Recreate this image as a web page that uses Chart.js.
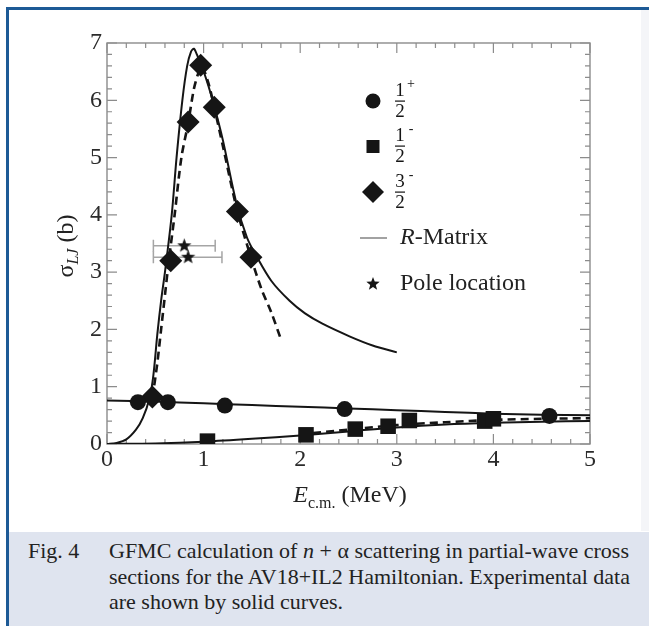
<!DOCTYPE html>
<html>
<head>
<meta charset="utf-8">
<script src="https://cdn.jsdelivr.net/npm/chart.js@4.4.1/dist/chart.umd.min.js"></script>
<style>
    body { margin: 0; width: 649px; height: 626px; background: #fff; position: relative; overflow: hidden; font-family: "Liberation Serif", serif; }
    #frameTop { position: absolute; left: 6px; top: 7px; width: 643px; height: 3px; background: #1d5a96; }
    #frameLeft { position: absolute; left: 6px; top: 7px; width: 3px; height: 619px; background: #1d5a96; }
    #rightStrip { position: absolute; left: 641px; top: 10px; width: 8px; height: 521px; background: #f4f5f8; }
    #chart { position: absolute; left: 0; top: 0; }
    #caption { position: absolute; left: 9px; top: 532px; width: 640px; height: 94px; background: #dfe4ef; color: #222; font-size: 22px; }
    #caption .fig { position: absolute; left: 19px; top: 6px; line-height: 25.5px; }
    #caption .body { position: absolute; left: 100px; top: 6px; width: 520px; }
    #caption .line { line-height: 25.5px; white-space: nowrap; text-align: justify; text-align-last: justify; }
    #caption .line.last { text-align-last: left; }
</style>
</head>
<body>
<div id="frameTop"></div>
<div id="frameLeft"></div>
<div id="rightStrip"></div>
<canvas id="chart" width="649" height="531"></canvas>
<div id="caption">
    <div class="fig">Fig. 4</div>
    <div class="body">
        <div class="line">GFMC calculation of <i>n</i> + α scattering in partial-wave cross</div>
        <div class="line">sections for the AV18+IL2 Hamiltonian. Experimental data</div>
        <div class="line last">are shown by solid curves.</div>
    </div>
</div>
<script>
// axis ticks
const energyTicks = [0, 1, 2, 3, 4, 5];
const sigmaTicks = [0, 1, 2, 3, 4, 5, 6, 7];

// GFMC points (E in MeV, sigma in b)
const halfPlusE = [0.32, 0.63, 1.22, 2.46, 4.58];
const halfPlusSigma = [0.73, 0.73, 0.67, 0.61, 0.49];
const halfMinusE = [1.04, 2.06, 2.57, 2.91, 3.13, 3.91, 4.00];
const halfMinusSigma = [0.05, 0.16, 0.26, 0.31, 0.41, 0.40, 0.44];
const threeHalfE = [0.47, 0.66, 0.84, 0.97, 1.11, 1.35, 1.49];
const threeHalfSigma = [0.82, 3.20, 5.62, 6.61, 5.88, 4.06, 3.26];

// pole locations with horizontal error bars
const poleE = [0.80, 0.84];
const poleSigma = [3.46, 3.26];
const poleLow = [0.48, 0.48];
const poleHigh = [1.12, 1.19];

// R-matrix (solid) curves
const rmThreeHalfE = [0, 0.1, 0.2, 0.3, 0.37, 0.44, 0.48, 0.52, 0.56, 0.60, 0.67, 0.72, 0.78, 0.83, 0.87, 0.90, 0.93, 0.99, 1.05, 1.11, 1.20, 1.34, 1.45, 1.54, 1.70, 1.89, 2.05, 2.23, 2.51, 2.75, 3.00];
const rmThreeHalfSigma = [0, 0.02, 0.08, 0.25, 0.45, 0.80, 1.20, 1.90, 2.50, 3.00, 4.00, 5.00, 6.00, 6.60, 6.85, 6.90, 6.80, 6.55, 6.25, 5.90, 5.30, 4.20, 3.60, 3.30, 2.85, 2.50, 2.28, 2.10, 1.88, 1.72, 1.60];
const rmHalfPlusE = [0, 0.5, 1, 1.5, 2, 2.5, 3, 3.5, 4, 4.5, 5];
const rmHalfPlusSigma = [0.76, 0.74, 0.71, 0.68, 0.65, 0.62, 0.59, 0.56, 0.53, 0.51, 0.50];
const rmHalfMinusE = [0, 0.5, 1, 1.5, 2, 2.5, 3, 3.5, 4, 4.5, 5];
const rmHalfMinusSigma = [0, 0.01, 0.04, 0.09, 0.15, 0.22, 0.29, 0.34, 0.37, 0.39, 0.40];

// GFMC fits (dashed)
const fitThreeHalfE = [0.47, 0.52, 0.56, 0.60, 0.64, 0.70, 0.77, 0.84, 0.90, 0.95, 0.98, 1.05, 1.11, 1.20, 1.35, 1.49, 1.60, 1.70, 1.80];
const fitThreeHalfSigma = [0.80, 1.40, 2.00, 2.60, 3.20, 4.00, 5.00, 5.60, 6.20, 6.50, 6.60, 6.30, 5.88, 5.20, 4.06, 3.26, 2.70, 2.30, 1.83];
const fitHalfMinusE = [2.0, 2.5, 3.0, 3.5, 4.0, 4.5, 5.0];
const fitHalfMinusSigma = [0.17, 0.25, 0.33, 0.38, 0.42, 0.44, 0.45];

const ink = '#151515';
const serif = '"Liberation Serif", "Times New Roman", serif';

function pts(xs, ys) {
    return xs.map((x, i) => ({ x: x, y: ys[i] }));
}

function makeStar(r) {
    const c = document.createElement('canvas');
    const s = Math.ceil(r * 2 + 2);
    c.width = s;
    c.height = s;
    const g = c.getContext('2d');
    g.fillStyle = ink;
    g.beginPath();
    for (let i = 0; i < 10; i++) {
        const rr = i % 2 ? r * 0.42 : r;
        const a = -Math.PI / 2 + i * Math.PI / 5;
        g.lineTo(s / 2 + rr * Math.cos(a), s / 2 + rr * Math.sin(a));
    }
    g.closePath();
    g.fill();
    return c;
}

const starImg = makeStar(7.5);

function curve(xs, ys, dashed) {
    return {
        data: pts(xs, ys),
        showLine: true,
        borderColor: ink,
        borderWidth: dashed ? 2.6 : 2,
        borderDash: dashed ? [8, 5] : [],
        pointRadius: 0,
        tension: 0.3,
        order: 2
    };
}

function markers(xs, ys, style, radius) {
    return {
        data: pts(xs, ys),
        showLine: false,
        pointStyle: style,
        pointRadius: radius,
        pointBackgroundColor: ink,
        pointBorderColor: ink,
        pointBorderWidth: 0,
        order: 0
    };
}

// frame, inward ticks, tick labels and pole error bars
const framePlugin = {
    id: 'frame',
    beforeDatasetsDraw(chart) {
        const { ctx, chartArea: a, scales: { x, y } } = chart;
        ctx.save();
        ctx.strokeStyle = '#8c8c8c';
        ctx.lineWidth = 1.4;
        ctx.strokeRect(a.left, a.top, a.right - a.left, a.bottom - a.top);
        ctx.lineWidth = 1.2;
        for (let i = 0; i <= 25; i++) {
            const px = x.getPixelForValue(i * 0.2);
            const len = i % 5 === 0 ? 10 : 5;
            ctx.beginPath();
            ctx.moveTo(px, a.bottom); ctx.lineTo(px, a.bottom - len);
            ctx.moveTo(px, a.top); ctx.lineTo(px, a.top + len);
            ctx.stroke();
        }
        for (let i = 0; i <= 35; i++) {
            const py = y.getPixelForValue(i * 0.2);
            const len = i % 5 === 0 ? 10 : 5;
            ctx.beginPath();
            ctx.moveTo(a.left, py); ctx.lineTo(a.left + len, py);
            ctx.moveTo(a.right, py); ctx.lineTo(a.right - len, py);
            ctx.stroke();
        }

        ctx.fillStyle = '#2b2b2b';
        ctx.font = '24px ' + serif;
        ctx.textAlign = 'right';
        ctx.textBaseline = 'middle';
        sigmaTicks.forEach(v => ctx.fillText(String(v), a.left - 5, y.getPixelForValue(v)));
        ctx.textAlign = 'center';
        ctx.textBaseline = 'top';
        energyTicks.forEach(v => ctx.fillText(String(v), x.getPixelForValue(v), a.bottom + 4));

        // error bars on the pole locations
        ctx.strokeStyle = '#a5a5a5';
        ctx.lineWidth = 1.5;
        poleE.forEach((e, i) => {
            const py = y.getPixelForValue(poleSigma[i]);
            const x0 = x.getPixelForValue(poleLow[i]);
            const x1 = x.getPixelForValue(poleHigh[i]);
            ctx.beginPath();
            ctx.moveTo(x0, py); ctx.lineTo(x1, py);
            ctx.moveTo(x0, py - 6); ctx.lineTo(x0, py + 6);
            ctx.moveTo(x1, py - 6); ctx.lineTo(x1, py + 6);
            ctx.stroke();
        });
        ctx.restore();
    },
    afterDraw(chart) {
        const { ctx } = chart;
        ctx.save();
        ctx.fillStyle = '#222';
        ctx.textBaseline = 'alphabetic';
        ctx.textAlign = 'left';

        // x axis title
        ctx.font = 'italic 24px ' + serif;
        const wE = ctx.measureText('E').width;
        ctx.font = '16px ' + serif;
        const wSub = ctx.measureText('c.m.').width;
        ctx.font = '24px ' + serif;
        const wMeV = ctx.measureText(' (MeV)').width;
        let x0 = 350 - (wE + wSub + wMeV) / 2;
        ctx.font = 'italic 24px ' + serif;
        ctx.fillText('E', x0, 502);
        ctx.font = '16px ' + serif;
        ctx.fillText('c.m.', x0 + wE, 508);
        ctx.font = '24px ' + serif;
        ctx.fillText(' (MeV)', x0 + wE + wSub, 502);

        // y axis title
        ctx.translate(73, 246);
        ctx.rotate(-Math.PI / 2);
        ctx.font = '24px ' + serif;
        const wS = ctx.measureText('σ').width;
        ctx.font = 'italic 16px ' + serif;
        const wLJ = ctx.measureText('LJ').width;
        ctx.font = '24px ' + serif;
        const wB = ctx.measureText(' (b)').width;
        x0 = -(wS + wLJ + wB) / 2;
        ctx.fillText('σ', x0, 0);
        ctx.font = 'italic 16px ' + serif;
        ctx.fillText('LJ', x0 + wS, 5);
        ctx.font = '24px ' + serif;
        ctx.fillText(' (b)', x0 + wS + wLJ, 0);
        ctx.restore();

        drawLegend(ctx);
    }
};

function drawFraction(ctx, num, sup, cx, cy) {
    ctx.font = '19px ' + serif;
    ctx.textAlign = 'center';
    ctx.textBaseline = 'middle';
    ctx.fillText(num, cx, cy - 10);
    ctx.fillText('2', cx, cy + 11);
    ctx.fillRect(cx - 5, cy - 0.5, 10, 1.2);
    ctx.font = '14px ' + serif;
    ctx.fillText(sup, cx + 11, cy - 17);
}

function drawLegend(ctx) {
    ctx.save();
    ctx.fillStyle = ink;
    // 1/2+
    ctx.beginPath();
    ctx.arc(373, 101, 7.5, 0, Math.PI * 2);
    ctx.fill();
    drawFraction(ctx, '1', '+', 400, 101);
    // 1/2-
    ctx.fillRect(366.5, 140, 13, 13);
    drawFraction(ctx, '1', '-', 400, 146);
    // 3/2-
    ctx.beginPath();
    ctx.moveTo(373, 181); ctx.lineTo(384, 192); ctx.lineTo(373, 203); ctx.lineTo(362, 192);
    ctx.closePath();
    ctx.fill();
    drawFraction(ctx, '3', '-', 400, 192);
    // R-matrix
    ctx.strokeStyle = '#7a7a7a';
    ctx.lineWidth = 1.4;
    ctx.beginPath();
    ctx.moveTo(360, 238); ctx.lineTo(387, 238);
    ctx.stroke();
    ctx.fillStyle = '#222';
    ctx.textAlign = 'left';
    ctx.textBaseline = 'middle';
    ctx.font = 'italic 24px ' + serif;
    ctx.fillText('R', 400, 238);
    const wR = ctx.measureText('R').width;
    ctx.font = '24px ' + serif;
    ctx.fillText('-Matrix', 400 + wR, 238);
    // pole location
    ctx.drawImage(makeStar(7), 373 - 8, 284 - 8);
    ctx.fillText('Pole location', 400, 284);
    ctx.restore();
}

new Chart(document.getElementById('chart'), {
    type: 'scatter',
    data: {
        datasets: [
            markers(halfPlusE, halfPlusSigma, 'circle', 8),
            markers(halfMinusE, halfMinusSigma, 'rect', 11),
            markers(threeHalfE, threeHalfSigma, 'rectRot', 11.5),
            markers(poleE, poleSigma, starImg, 8),
            curve(rmThreeHalfE, rmThreeHalfSigma, false),
            curve(fitThreeHalfE, fitThreeHalfSigma, true),
            curve(rmHalfPlusE, rmHalfPlusSigma, false),
            curve(rmHalfMinusE, rmHalfMinusSigma, false),
            curve(fitHalfMinusE, fitHalfMinusSigma, true)
        ]
    },
    options: {
        responsive: false,
        animation: false,
        layout: { padding: { left: 107, right: 59, top: 43, bottom: 87 } },
        scales: {
            x: { type: 'linear', min: 0, max: 5, display: false },
            y: { type: 'linear', min: 0, max: 7, display: false }
        },
        plugins: {
            legend: { display: false },
            tooltip: { enabled: false }
        }
    },
    plugins: [framePlugin]
});
</script>
</body>
</html>
